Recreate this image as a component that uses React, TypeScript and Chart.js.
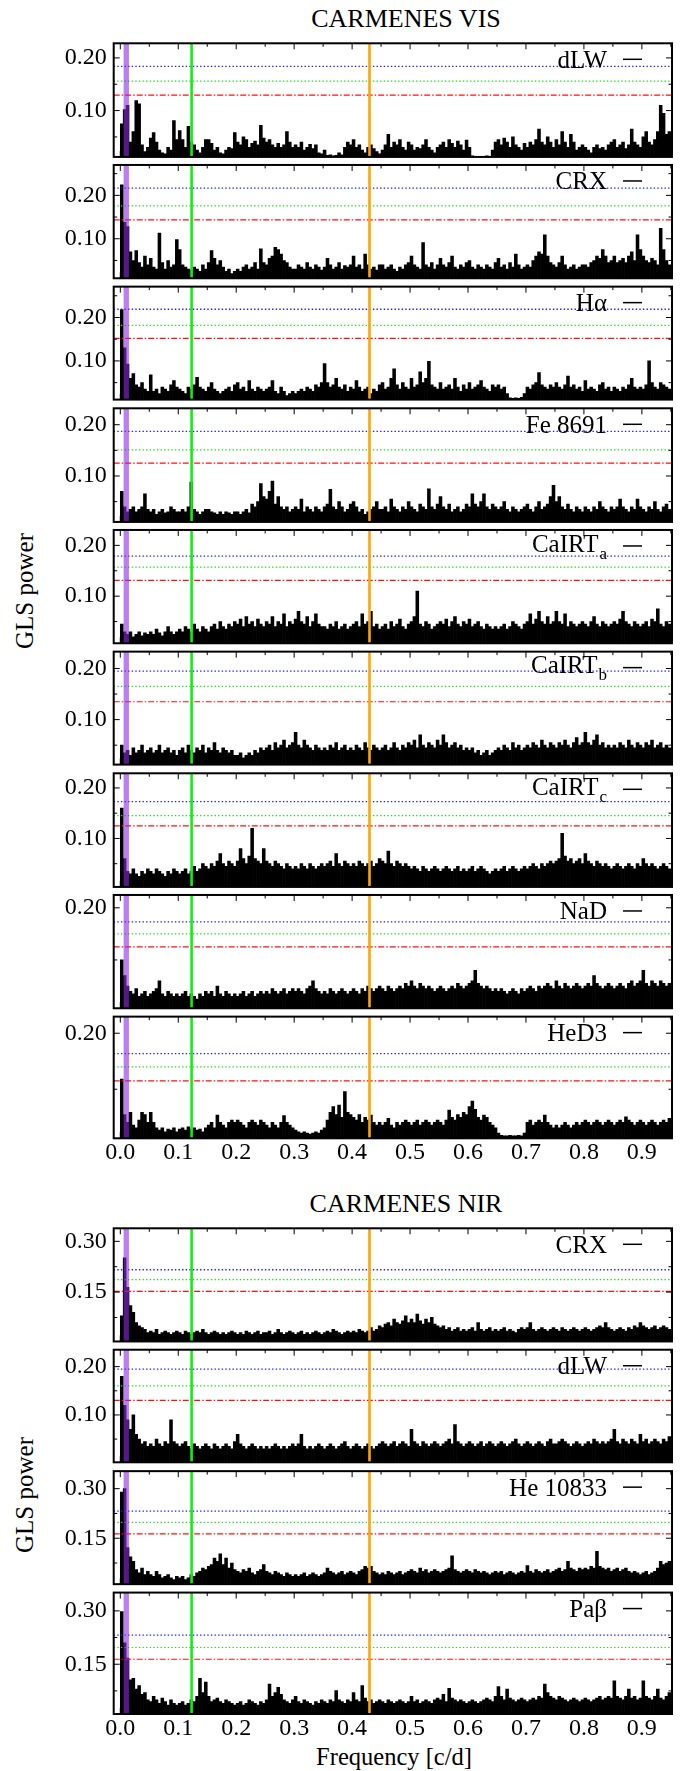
import React, { useEffect, useRef } from 'react';
import { Chart, registerables } from 'chart.js';

Chart.register(...registerables);

const FONT = '"Liberation Serif", "Times New Roman", Times, serif';

// ---- frequency sampling grid of the periodograms (c/d) ----
const FREQ_START = 0.0025;
const FREQ_STEP = 0.005;

// ---- x axis ----
const X_MIN = -0.0114;
const X_MAX = 0.952;
const X_TICKS = [0.0, 0.1, 0.2, 0.3, 0.4, 0.5, 0.6, 0.7, 0.8, 0.9];
const X_MINOR = [0.05, 0.15, 0.25, 0.35, 0.45, 0.55, 0.65, 0.75, 0.85, 0.95];

// ---- marked frequencies (vertical lines) ----
const MARK_PURPLE = 0.0103;
const MARK_GREEN = 0.123;
const MARK_ORANGE = 0.43;

// ---- y tick sets ----
const TICKS_10_20 = [0.1, 0.2];
const MINOR_10_20 = [0.05, 0.15, 0.25];
const TICKS_20 = [0.2];
const MINOR_20 = [0.1, 0.3];
const TICKS_15_30 = [0.15, 0.3];
const MINOR_15_30 = [0.075, 0.225, 0.375];

// ---- FAP levels [0.1%, 1%, 10%] ----
const FAP_VIS_DLW = [0.184, 0.156, 0.1295];
const FAP_VIS_CRX = [0.2165, 0.1757, 0.1435];
const FAP_VIS_HA = [0.219, 0.182, 0.152];
const FAP_VIS_FE = [0.187, 0.151, 0.125];
const FAP_VIS_CAA = [0.179, 0.157, 0.131];
const FAP_VIS_CAB = [0.195, 0.165, 0.135];
const FAP_VIS_CAC = [0.173, 0.145, 0.125];
const FAP_VIS_NAD = [0.173, 0.15, 0.125];
const FAP_VIS_HED3 = [0.1635, 0.14, 0.115];
const FAP_NIR_CRX = [0.216, 0.187, 0.152];
const FAP_NIR_DLW = [0.195, 0.16, 0.13];
const FAP_NIR_HE = [0.232, 0.198, 0.163];
const FAP_NIR_PAB = [0.232, 0.197, 0.164];

// ---- GLS power, one value every 0.005 c/d from 0.0025 ----
const VIS_DLW = [
  .075, .102, .110, .040, .060, .119, .113, .035, .022, .030,
  .048, .058, .040, .025, .020, .018, .030, .025, .081, .045,
  .062, .045, .030, .070, .040, .035, .025, .020, .030, .045,
  .045, .038, .025, .030, .020, .018, .025, .030, .028, .058,
  .040, .035, .050, .045, .030, .038, .042, .035, .072, .048,
  .040, .045, .035, .030, .038, .030, .035, .060, .040, .030,
  .035, .030, .040, .025, .030, .036, .028, .035, .020, .018,
  .025, .015, .016, .014, .015, .020, .016, .030, .040, .035,
  .045, .030, .035, .025, .020, .030, .035, .028, .022, .018,
  .025, .035, .055, .030, .040, .035, .045, .030, .025, .040,
  .035, .025, .030, .028, .035, .045, .030, .025, .020, .030,
  .035, .040, .030, .045, .038, .030, .042, .035, .025, .044,
  .030, .014, .013, .013, .013, .013, .014, .013, .025, .040,
  .045, .035, .048, .040, .030, .050, .035, .030, .025, .038,
  .030, .040, .035, .045, .065, .040, .035, .050, .040, .030,
  .045, .035, .060, .040, .030, .055, .040, .025, .030, .035,
  .030, .025, .020, .030, .035, .028, .030, .025, .035, .040,
  .045, .030, .035, .040, .028, .035, .065, .040, .035, .030,
  .050, .060, .040, .035, .045, .060, .110, .095, .055, .060,
];
const VIS_CRX = [
  .224, .138, .128, .070, .050, .073, .045, .035, .060, .040,
  .055, .035, .030, .113, .045, .030, .050, .035, .040, .098,
  .075, .040, .035, .030, .028, .035, .030, .025, .040, .030,
  .045, .073, .055, .040, .050, .035, .025, .030, .020, .025,
  .030, .025, .035, .040, .030, .035, .045, .030, .077, .045,
  .040, .055, .060, .080, .075, .065, .050, .045, .035, .030,
  .030, .040, .035, .030, .045, .035, .030, .040, .035, .028,
  .035, .055, .040, .030, .035, .045, .030, .038, .035, .040,
  .060, .035, .040, .030, .065, .040, .030, .035, .028, .040,
  .040, .030, .035, .040, .030, .025, .035, .030, .040, .045,
  .060, .040, .035, .030, .091, .040, .035, .045, .030, .040,
  .055, .040, .035, .045, .060, .035, .030, .040, .035, .045,
  .050, .035, .030, .040, .035, .030, .040, .035, .030, .045,
  .055, .035, .040, .030, .045, .035, .065, .040, .030, .035,
  .040, .035, .050, .060, .070, .065, .109, .060, .045, .040,
  .035, .045, .060, .040, .030, .035, .040, .030, .035, .040,
  .040, .035, .045, .050, .060, .055, .075, .060, .045, .050,
  .060, .045, .050, .055, .045, .060, .070, .050, .109, .075,
  .060, .050, .045, .055, .050, .040, .124, .075, .050, .040,
];
const VIS_HA = [
  .218, .130, .093, .060, .071, .045, .040, .050, .035, .030,
  .068, .030, .035, .025, .040, .035, .030, .045, .055, .040,
  .035, .030, .025, .040, .035, .045, .062, .040, .035, .030,
  .040, .050, .035, .030, .025, .030, .035, .040, .030, .045,
  .050, .035, .040, .030, .055, .035, .030, .040, .035, .030,
  .035, .040, .055, .030, .025, .040, .030, .020, .025, .030,
  .025, .030, .035, .030, .040, .035, .030, .045, .040, .050,
  .094, .050, .040, .045, .060, .040, .035, .045, .030, .040,
  .035, .055, .040, .030, .035, .040, .025, .035, .030, .045,
  .050, .035, .040, .060, .082, .045, .035, .050, .040, .035,
  .060, .040, .045, .075, .050, .060, .099, .045, .040, .035,
  .050, .035, .040, .045, .035, .060, .040, .030, .045, .035,
  .050, .035, .040, .045, .055, .040, .035, .030, .045, .040,
  .045, .035, .040, .025, .015, .014, .015, .014, .016, .025,
  .040, .035, .045, .050, .073, .045, .040, .035, .045, .040,
  .050, .040, .035, .045, .065, .040, .045, .035, .040, .030,
  .055, .035, .040, .035, .030, .045, .050, .035, .040, .030,
  .040, .035, .030, .040, .035, .045, .060, .040, .035, .040,
  .035, .045, .100, .050, .040, .035, .050, .045, .040, .035,
];
const VIS_FE = [
  .070, .040, .030, .035, .040, .030, .035, .040, .065, .035,
  .030, .035, .025, .030, .035, .028, .030, .040, .035, .030,
  .030, .035, .030, .040, .088, .035, .030, .025, .030, .035,
  .035, .030, .028, .025, .030, .025, .030, .028, .025, .030,
  .030, .025, .030, .035, .028, .045, .040, .050, .085, .060,
  .055, .070, .090, .045, .060, .040, .035, .040, .030, .035,
  .040, .035, .055, .030, .040, .035, .030, .040, .035, .030,
  .040, .045, .074, .040, .035, .050, .040, .030, .035, .045,
  .050, .040, .030, .035, .025, .030, .035, .040, .050, .035,
  .035, .040, .030, .055, .040, .035, .030, .040, .035, .050,
  .040, .035, .030, .045, .040, .035, .075, .040, .035, .045,
  .060, .040, .035, .045, .030, .035, .040, .030, .035, .045,
  .040, .065, .045, .040, .050, .065, .040, .035, .045, .040,
  .035, .040, .050, .035, .030, .040, .035, .030, .035, .040,
  .045, .035, .030, .040, .050, .035, .040, .045, .060, .082,
  .050, .060, .040, .035, .045, .035, .030, .040, .035, .030,
  .040, .035, .030, .040, .035, .050, .040, .035, .030, .040,
  .035, .040, .055, .040, .035, .030, .040, .035, .055, .040,
  .035, .030, .040, .035, .050, .035, .030, .040, .045, .035,
];
const VIS_CAA = [
  .045, .030, .025, .030, .020, .025, .030, .022, .028, .025,
  .030, .025, .035, .028, .022, .030, .040, .030, .025, .030,
  .035, .030, .040, .035, .030, .045, .035, .030, .040, .035,
  .030, .040, .045, .035, .050, .040, .035, .045, .040, .050,
  .045, .055, .040, .060, .045, .050, .040, .055, .045, .040,
  .050, .045, .060, .040, .050, .045, .065, .040, .050, .045,
  .055, .070, .050, .045, .060, .040, .050, .065, .045, .040,
  .040, .035, .045, .040, .050, .035, .040, .045, .035, .040,
  .045, .050, .040, .065, .045, .050, .070, .040, .045, .035,
  .040, .045, .035, .050, .040, .045, .055, .040, .035, .045,
  .050, .060, .110, .045, .040, .050, .045, .035, .040, .045,
  .050, .045, .055, .040, .050, .060, .045, .040, .050, .045,
  .055, .040, .045, .050, .040, .035, .045, .040, .035, .040,
  .035, .040, .045, .035, .040, .050, .045, .040, .035, .045,
  .050, .065, .045, .055, .070, .050, .045, .060, .045, .050,
  .070, .050, .045, .065, .040, .050, .045, .040, .045, .050,
  .045, .040, .050, .060, .045, .040, .050, .045, .040, .045,
  .050, .045, .055, .070, .050, .045, .040, .050, .045, .040,
  .045, .050, .040, .055, .050, .075, .045, .040, .050, .045,
];
const VIS_CAB = [
  .050, .035, .040, .030, .045, .035, .040, .050, .035, .040,
  .045, .035, .040, .050, .035, .040, .045, .035, .040, .030,
  .040, .045, .035, .050, .040, .035, .045, .040, .050, .035,
  .045, .040, .055, .040, .035, .045, .040, .035, .040, .030,
  .030, .035, .025, .030, .035, .030, .040, .035, .045, .040,
  .045, .050, .040, .055, .045, .050, .060, .045, .050, .055,
  .075, .050, .045, .060, .050, .045, .040, .050, .045, .040,
  .045, .040, .050, .045, .055, .040, .045, .050, .040, .045,
  .040, .050, .045, .040, .055, .045, .040, .050, .045, .040,
  .045, .050, .040, .045, .055, .045, .040, .050, .045, .055,
  .050, .060, .045, .070, .050, .045, .055, .050, .045, .060,
  .050, .070, .055, .045, .050, .055, .045, .050, .040, .045,
  .040, .045, .035, .040, .030, .035, .040, .030, .035, .040,
  .045, .040, .050, .045, .040, .055, .045, .050, .040, .045,
  .050, .045, .055, .050, .045, .060, .050, .045, .055, .050,
  .045, .055, .050, .060, .050, .045, .055, .065, .050, .055,
  .075, .055, .050, .060, .070, .050, .055, .045, .050, .045,
  .050, .045, .055, .050, .045, .060, .050, .045, .055, .050,
  .045, .055, .050, .060, .045, .050, .055, .045, .050, .045,
];
const VIS_CAC = [
  .160, .060, .035, .030, .040, .030, .025, .035, .030, .040,
  .035, .030, .040, .035, .030, .025, .035, .030, .040, .035,
  .030, .035, .040, .030, .035, .045, .035, .040, .050, .045,
  .040, .050, .045, .055, .070, .050, .045, .055, .050, .045,
  .055, .080, .060, .050, .065, .120, .060, .055, .050, .080,
  .055, .050, .045, .055, .050, .045, .040, .050, .045, .040,
  .045, .040, .050, .045, .040, .050, .045, .040, .045, .050,
  .045, .050, .055, .045, .070, .050, .045, .055, .050, .045,
  .050, .045, .055, .050, .045, .050, .055, .045, .050, .060,
  .055, .050, .075, .050, .045, .055, .050, .045, .050, .045,
  .040, .045, .040, .035, .045, .040, .035, .040, .045, .040,
  .035, .040, .045, .040, .035, .040, .045, .035, .040, .035,
  .040, .045, .035, .040, .045, .040, .035, .030, .035, .040,
  .035, .040, .045, .035, .040, .045, .040, .035, .040, .045,
  .040, .045, .050, .045, .040, .050, .045, .050, .055, .050,
  .055, .060, .110, .065, .055, .060, .050, .055, .060, .050,
  .070, .055, .050, .045, .055, .050, .045, .050, .045, .040,
  .045, .050, .045, .040, .045, .050, .045, .040, .050, .045,
  .060, .050, .045, .050, .045, .040, .045, .050, .045, .040,
];
const VIS_NAD = [
  .100, .070, .050, .040, .035, .045, .030, .035, .040, .030,
  .035, .040, .045, .060, .035, .030, .040, .035, .030, .035,
  .030, .035, .040, .030, .035, .030, .025, .035, .030, .040,
  .035, .040, .030, .050, .035, .030, .040, .035, .030, .035,
  .030, .035, .040, .030, .035, .040, .030, .035, .040, .035,
  .040, .035, .045, .040, .035, .040, .045, .035, .040, .045,
  .040, .045, .040, .035, .045, .050, .060, .045, .040, .035,
  .040, .035, .045, .040, .035, .040, .045, .040, .035, .040,
  .045, .040, .035, .045, .040, .050, .045, .040, .045, .050,
  .045, .040, .050, .045, .040, .045, .050, .045, .055, .050,
  .060, .050, .045, .055, .050, .045, .050, .045, .040, .045,
  .050, .045, .040, .045, .050, .045, .055, .050, .045, .050,
  .055, .060, .080, .055, .050, .045, .050, .045, .040, .045,
  .040, .045, .040, .035, .040, .045, .040, .035, .045, .040,
  .045, .050, .045, .040, .050, .045, .050, .055, .050, .045,
  .060, .050, .045, .055, .050, .045, .050, .055, .050, .045,
  .050, .055, .050, .070, .055, .050, .045, .050, .055, .050,
  .045, .050, .055, .050, .045, .055, .060, .050, .055, .060,
  .080, .055, .050, .060, .055, .050, .060, .055, .050, .055,
];
const VIS_HED3 = [
  .118, .055, .041, .059, .036, .031, .045, .059, .055, .041,
  .059, .041, .031, .027, .031, .024, .029, .027, .031, .024,
  .029, .031, .027, .033, .029, .031, .027, .029, .024, .031,
  .036, .041, .031, .054, .041, .036, .031, .041, .045, .041,
  .045, .041, .036, .031, .041, .045, .041, .036, .045, .041,
  .036, .031, .041, .036, .031, .041, .053, .041, .036, .031,
  .027, .024, .022, .024, .022, .020, .022, .024, .022, .027,
  .031, .045, .059, .069, .055, .072, .050, .096, .059, .055,
  .050, .045, .055, .041, .050, .045, .054, .041, .036, .041,
  .036, .041, .048, .036, .031, .041, .036, .041, .045, .041,
  .036, .041, .045, .036, .041, .045, .041, .036, .041, .045,
  .041, .036, .045, .063, .050, .045, .055, .050, .059, .055,
  .069, .079, .064, .050, .045, .054, .050, .041, .036, .031,
  .022, .018, .017, .017, .018, .017, .017, .018, .017, .022,
  .041, .045, .036, .041, .045, .041, .054, .041, .036, .031,
  .036, .031, .036, .041, .036, .031, .036, .041, .036, .041,
  .045, .041, .036, .041, .045, .041, .036, .041, .045, .041,
  .036, .041, .045, .041, .051, .045, .041, .036, .041, .045,
  .041, .036, .041, .045, .041, .036, .041, .045, .041, .048,
];
const NIR_CRX = [
  .080, .251, .164, .110, .090, .060, .050, .045, .040, .030,
  .035, .030, .040, .025, .030, .035, .030, .025, .030, .035,
  .030, .025, .035, .030, .025, .030, .035, .030, .040, .030,
  .025, .030, .035, .030, .025, .030, .025, .030, .035, .030,
  .025, .030, .025, .035, .030, .025, .030, .035, .025, .030,
  .030, .035, .025, .030, .040, .030, .025, .030, .035, .030,
  .025, .030, .035, .025, .030, .025, .030, .035, .030, .025,
  .030, .035, .030, .040, .035, .030, .025, .030, .035, .030,
  .035, .030, .040, .035, .030, .035, .045, .035, .040, .050,
  .045, .055, .060, .050, .070, .060, .055, .065, .080, .060,
  .070, .060, .085, .065, .055, .070, .060, .075, .055, .050,
  .045, .050, .040, .045, .035, .040, .045, .035, .040, .035,
  .040, .045, .035, .060, .040, .035, .040, .045, .035, .040,
  .035, .040, .045, .035, .040, .035, .030, .040, .045, .040,
  .045, .060, .040, .035, .040, .045, .040, .035, .040, .045,
  .040, .035, .045, .040, .035, .040, .045, .040, .035, .040,
  .045, .040, .035, .040, .045, .050, .045, .060, .045, .040,
  .035, .040, .045, .040, .035, .045, .040, .050, .045, .060,
  .050, .045, .040, .045, .050, .040, .045, .050, .045, .040,
];
const NIR_DLW = [
  .180, .120, .090, .070, .100, .060, .050, .040, .045, .035,
  .040, .035, .050, .040, .035, .045, .040, .090, .045, .040,
  .035, .040, .045, .035, .030, .040, .035, .030, .035, .040,
  .035, .030, .040, .035, .030, .035, .040, .035, .030, .045,
  .060, .040, .035, .030, .035, .040, .035, .030, .035, .030,
  .035, .030, .035, .040, .035, .030, .035, .030, .035, .040,
  .035, .040, .060, .035, .030, .035, .030, .035, .040, .035,
  .030, .035, .040, .035, .030, .035, .040, .045, .035, .030,
  .035, .040, .035, .030, .035, .040, .035, .030, .035, .040,
  .045, .040, .035, .040, .045, .035, .040, .045, .040, .035,
  .070, .045, .040, .035, .045, .040, .035, .040, .045, .040,
  .035, .040, .045, .050, .040, .080, .045, .040, .035, .040,
  .045, .040, .035, .040, .045, .035, .040, .045, .040, .035,
  .040, .045, .040, .035, .040, .045, .050, .040, .035, .040,
  .045, .040, .035, .040, .045, .040, .035, .045, .050, .040,
  .040, .045, .050, .045, .040, .035, .040, .045, .040, .035,
  .040, .045, .040, .050, .045, .040, .045, .040, .045, .050,
  .070, .045, .040, .050, .045, .040, .050, .045, .040, .060,
  .045, .050, .040, .045, .050, .045, .040, .050, .045, .055,
];
const NIR_HE = [
  .290, .300, .122, .094, .080, .055, .045, .060, .040, .050,
  .040, .035, .050, .040, .030, .035, .040, .030, .025, .035,
  .030, .035, .025, .030, .040, .035, .045, .050, .060, .055,
  .065, .070, .090, .080, .103, .070, .090, .060, .075, .055,
  .050, .045, .055, .050, .060, .045, .040, .050, .055, .070,
  .050, .045, .040, .050, .045, .040, .035, .045, .040, .035,
  .040, .035, .040, .045, .035, .040, .045, .040, .035, .040,
  .045, .060, .050, .045, .040, .045, .050, .040, .045, .050,
  .045, .040, .050, .055, .065, .060, .065, .050, .045, .040,
  .045, .040, .050, .045, .040, .045, .050, .040, .045, .050,
  .055, .050, .045, .060, .050, .055, .045, .050, .055, .050,
  .045, .050, .055, .060, .097, .055, .050, .045, .050, .055,
  .050, .045, .055, .050, .045, .050, .045, .040, .045, .050,
  .045, .050, .040, .045, .050, .045, .040, .045, .050, .045,
  .067, .050, .045, .055, .050, .045, .050, .055, .045, .050,
  .055, .060, .050, .055, .080, .060, .055, .050, .060, .055,
  .060, .055, .065, .060, .110, .065, .060, .055, .060, .050,
  .055, .060, .050, .055, .060, .050, .045, .050, .045, .040,
  .045, .050, .040, .045, .050, .060, .080, .070, .075, .080,
];
const NIR_PAB = [
  .298, .210, .167, .106, .110, .080, .090, .065, .070, .050,
  .045, .060, .050, .040, .055, .045, .035, .050, .040, .035,
  .040, .045, .035, .040, .050, .045, .060, .110, .070, .100,
  .060, .045, .050, .055, .045, .040, .050, .045, .040, .035,
  .040, .045, .035, .040, .050, .045, .040, .035, .045, .040,
  .050, .094, .060, .070, .085, .065, .050, .045, .040, .050,
  .060, .045, .040, .050, .045, .040, .035, .045, .040, .050,
  .045, .040, .050, .045, .076, .050, .045, .040, .050, .045,
  .070, .050, .045, .090, .055, .045, .050, .040, .045, .050,
  .045, .040, .050, .045, .040, .045, .050, .045, .040, .045,
  .060, .045, .050, .040, .045, .050, .045, .040, .050, .055,
  .050, .065, .045, .082, .055, .050, .045, .050, .045, .040,
  .045, .050, .045, .040, .045, .050, .055, .050, .045, .060,
  .087, .060, .050, .080, .055, .050, .045, .050, .055, .050,
  .045, .050, .055, .050, .060, .055, .094, .070, .060, .055,
  .050, .060, .055, .050, .045, .050, .055, .050, .045, .050,
  .055, .050, .045, .050, .055, .060, .050, .055, .060, .055,
  .103, .060, .055, .050, .060, .080, .055, .060, .050, .055,
  .103, .060, .055, .050, .060, .080, .055, .050, .060, .070,
];

type PanelSpec = {
  label: string;
  sub?: string;
  values: number[];
  yMin: number;
  yMax: number;
  yTicks: number[];
  yMinor: number[];
  fap: number[];
};

const VIS_PANELS: PanelSpec[] = [
  { label: 'dLW', values: VIS_DLW, yMin: 0.012, yMax: 0.2277, yTicks: TICKS_10_20, yMinor: MINOR_10_20, fap: FAP_VIS_DLW },
  { label: 'CRX', values: VIS_CRX, yMin: 0.009, yMax: 0.270, yTicks: TICKS_10_20, yMinor: MINOR_10_20, fap: FAP_VIS_CRX },
  { label: 'H\u03b1', values: VIS_HA, yMin: 0.011, yMax: 0.271, yTicks: TICKS_10_20, yMinor: MINOR_10_20, fap: FAP_VIS_HA },
  { label: 'Fe 8691', values: VIS_FE, yMin: 0.0104, yMax: 0.232, yTicks: TICKS_10_20, yMinor: MINOR_10_20, fap: FAP_VIS_FE },
  { label: 'CaIRT', sub: 'a', values: VIS_CAA, yMin: 0.0073, yMax: 0.2303, yTicks: TICKS_10_20, yMinor: MINOR_10_20, fap: FAP_VIS_CAA },
  { label: 'CaIRT', sub: 'b', values: VIS_CAB, yMin: 0.012, yMax: 0.233, yTicks: TICKS_10_20, yMinor: MINOR_10_20, fap: FAP_VIS_CAB },
  { label: 'CaIRT', sub: 'c', values: VIS_CAC, yMin: 0.004, yMax: 0.229, yTicks: TICKS_10_20, yMinor: MINOR_10_20, fap: FAP_VIS_CAC },
  { label: 'NaD', values: VIS_NAD, yMin: 0.0073, yMax: 0.2246, yTicks: TICKS_20, yMinor: MINOR_20, fap: FAP_VIS_NAD },
  { label: 'HeD3', values: VIS_HED3, yMin: 0.0125, yMax: 0.2296, yTicks: TICKS_20, yMinor: MINOR_20, fap: FAP_VIS_HED3 },
];

const NIR_PANELS: PanelSpec[] = [
  { label: 'CRX', values: NIR_CRX, yMin: 0.004, yMax: 0.3386, yTicks: TICKS_15_30, yMinor: MINOR_15_30, fap: FAP_NIR_CRX },
  { label: 'dLW', values: NIR_DLW, yMin: 0.002, yMax: 0.235, yTicks: TICKS_10_20, yMinor: MINOR_10_20, fap: FAP_NIR_DLW },
  { label: 'He 10833', values: NIR_HE, yMin: 0.011, yMax: 0.353, yTicks: TICKS_15_30, yMinor: MINOR_15_30, fap: FAP_NIR_HE },
  { label: 'Pa\u03b2', values: NIR_PAB, yMin: 0.010, yMax: 0.3515, yTicks: TICKS_15_30, yMinor: MINOR_15_30, fap: FAP_NIR_PAB },
];

// ---- layout ----
const CANVAS_W = 692;
const PLOT_LEFT = 113.7;
const PLOT_RIGHT = 672;
const VIS_TOP = 43.3;
const VIS_BOTTOM = 1138.3;
const NIR_TOP = 1228.3;
const NIR_BOTTOM = 1714;
const LEGEND_RIGHT = 607;

function line(ctx: any, x1: number, y1: number, x2: number, y2: number) {
  ctx.beginPath();
  ctx.moveTo(x1, y1);
  ctx.lineTo(x2, y2);
  ctx.stroke();
}

function decorPlugin(spec: PanelSpec) {
  return {
    id: 'panelDecor',
    afterDatasetsDraw(chart: any) {
      const { ctx, chartArea: a, scales } = chart;
      const xs = scales.x;
      const ys = scales.y;
      ctx.save();
      ctx.beginPath();
      ctx.rect(a.left, a.top, a.right - a.left, a.bottom - a.top);
      ctx.clip();
      const hline = (v: number, color: string, dash: number[], lw: number) => {
        const y = ys.getPixelForValue(v);
        ctx.setLineDash(dash);
        ctx.strokeStyle = color;
        ctx.lineWidth = lw;
        line(ctx, a.left, y, a.right, y);
      };
      hline(spec.fap[0], '#1f1fff', [1.4, 2.2], 1.3);
      hline(spec.fap[1], '#1fe01f', [1.4, 2.2], 1.2);
      hline(spec.fap[2], '#ff1010', [6, 2, 1.5, 2], 1.2);
      ctx.setLineDash([]);
      const vline = (f: number, color: string, lw: number) => {
        const x = xs.getPixelForValue(f);
        ctx.strokeStyle = color;
        ctx.lineWidth = lw;
        line(ctx, x, a.top, x, a.bottom);
      };
      vline(MARK_PURPLE, 'rgba(138,43,226,0.6)', 5.3);
      vline(MARK_GREEN, '#10f010', 2.6);
      vline(MARK_ORANGE, '#ffa500', 2.6);
      ctx.restore();

      ctx.save();
      ctx.setLineDash([]);
      ctx.strokeStyle = '#000';
      ctx.lineWidth = 1;
      const tickX = (f: number, len: number) => {
        const x = xs.getPixelForValue(f);
        line(ctx, x, a.top, x, a.top + len);
        line(ctx, x, a.bottom, x, a.bottom - len);
      };
      const tickY = (v: number, len: number) => {
        if (v < spec.yMin || v > spec.yMax) return;
        const y = ys.getPixelForValue(v);
        line(ctx, a.left, y, a.left + len, y);
        line(ctx, a.right, y, a.right - len, y);
      };
      X_TICKS.forEach((f) => tickX(f, 6));
      X_MINOR.forEach((f) => tickX(f, 3.5));
      spec.yTicks.forEach((v) => tickY(v, 6));
      spec.yMinor.forEach((v) => tickY(v, 3.5));
      ctx.lineWidth = 2;
      ctx.strokeRect(a.left, a.top, a.right - a.left, a.bottom - a.top);

      // legend entry
      ctx.fillStyle = '#000';
      ctx.textAlign = 'left';
      ctx.textBaseline = 'alphabetic';
      const mainFont = `25px ${FONT}`;
      const subFont = `17px ${FONT}`;
      let subW = 0;
      if (spec.sub) {
        ctx.font = subFont;
        subW = ctx.measureText(spec.sub).width + 1;
      }
      ctx.font = mainFont;
      const mainW = ctx.measureText(spec.label).width;
      const x0 = LEGEND_RIGHT - subW - mainW;
      const base = a.top + (spec.sub ? 21.7 : 24.5);
      ctx.fillText(spec.label, x0, base);
      if (spec.sub) {
        ctx.font = subFont;
        ctx.fillText(spec.sub, x0 + mainW + 1, base + 7);
      }
      ctx.lineWidth = 1.5;
      line(ctx, 623, a.top + 16, 642, a.top + 16);
      ctx.restore();
    },
  };
}

function Panel({ spec, top, height, showX }: { spec: PanelSpec; top: number; height: number; showX: boolean }) {
  const ref = useRef<HTMLCanvasElement | null>(null);
  const canvasTop = Math.floor(top) - 8;
  const padTop = top - canvasTop;
  const below = showX ? 36 : 8;
  const canvasH = Math.ceil(padTop + height + below);
  const padBottom = canvasH - padTop - height;

  useEffect(() => {
    const canvas = ref.current;
    if (!canvas) return;
    const points = spec.values.map((v, i) => ({ x: FREQ_START + FREQ_STEP * i, y: v }));
    const chart = new Chart(canvas, {
      type: 'bar',
      data: {
        datasets: [
          {
            data: points,
            backgroundColor: '#000',
            borderWidth: 0,
            barThickness: 2.9,
            base: spec.yMin,
            clip: 0,
          } as any,
        ],
      },
      options: {
        animation: false,
        responsive: false,
        maintainAspectRatio: false,
        devicePixelRatio: 1,
        events: [],
        layout: {
          padding: { left: 0, right: CANVAS_W - PLOT_RIGHT, top: padTop, bottom: showX ? 0 : padBottom },
        },
        plugins: { legend: { display: false }, tooltip: { enabled: false }, title: { display: false } },
        scales: {
          x: {
            type: 'linear',
            min: X_MIN,
            max: X_MAX,
            offset: false,
            display: showX,
            grid: { display: false, drawTicks: false },
            border: { display: false },
            ticks: {
              font: { family: FONT, size: 24 },
              color: '#000',
              padding: 0,
              autoSkip: false,
              maxRotation: 0,
              minRotation: 0,
              callback: (v: any) => Number(v).toFixed(1),
            },
            afterBuildTicks: (s: any) => {
              s.ticks = X_TICKS.map((v) => ({ value: v }));
            },
            afterFit: (s: any) => {
              s.height = padBottom;
              s.paddingLeft = 0;
              s.paddingRight = 0;
            },
          },
          y: {
            type: 'linear',
            min: spec.yMin,
            max: spec.yMax,
            grid: { display: false, drawTicks: false },
            border: { display: false },
            ticks: {
              font: { family: FONT, size: 24 },
              color: '#000',
              padding: 7,
              autoSkip: false,
              callback: (v: any) => Number(v).toFixed(2),
            },
            afterBuildTicks: (s: any) => {
              s.ticks = spec.yTicks.map((v) => ({ value: v }));
            },
            afterFit: (s: any) => {
              s.width = PLOT_LEFT;
              s.paddingTop = 0;
              s.paddingBottom = 0;
            },
          },
        },
      } as any,
      plugins: [decorPlugin(spec)],
    });
    return () => chart.destroy();
  }, []);

  return (
    <canvas
      ref={ref}
      width={CANVAS_W}
      height={canvasH}
      style={{ position: 'absolute', left: 0, top: canvasTop, width: CANVAS_W, height: canvasH, display: 'block' }}
    />
  );
}

const textStyle = (x: number, y: number, size: number, rotate = false): React.CSSProperties => ({
  position: 'absolute',
  left: x,
  top: y,
  transform: `translate(-50%, -50%)${rotate ? ' rotate(-90deg)' : ''}`,
  fontFamily: FONT,
  fontSize: size,
  lineHeight: 1,
  whiteSpace: 'nowrap',
  color: '#000',
});

export default function App() {
  const visH = (VIS_BOTTOM - VIS_TOP) / VIS_PANELS.length;
  const nirH = (NIR_BOTTOM - NIR_TOP) / NIR_PANELS.length;
  return (
    <div style={{ position: 'absolute', left: 0, top: 0, width: 692, height: 1771, background: '#fff', overflow: 'hidden' }}>
      <div style={textStyle(406, 19.2, 26)}>CARMENES VIS</div>
      <div style={textStyle(406, 1204, 26)}>CARMENES NIR</div>
      <div style={textStyle(23.6, (VIS_TOP + VIS_BOTTOM) / 2, 25, true)}>GLS power</div>
      <div style={textStyle(23.6, 1495, 25, true)}>GLS power</div>
      <div style={textStyle(394, 1757.3, 24.5)}>Frequency [c/d]</div>
      {VIS_PANELS.map((p, i) => (
        <Panel key={'v' + i} spec={p} top={VIS_TOP + i * visH} height={visH} showX={i === VIS_PANELS.length - 1} />
      ))}
      {NIR_PANELS.map((p, i) => (
        <Panel key={'n' + i} spec={p} top={NIR_TOP + i * nirH} height={nirH} showX={i === NIR_PANELS.length - 1} />
      ))}
    </div>
  );
}
